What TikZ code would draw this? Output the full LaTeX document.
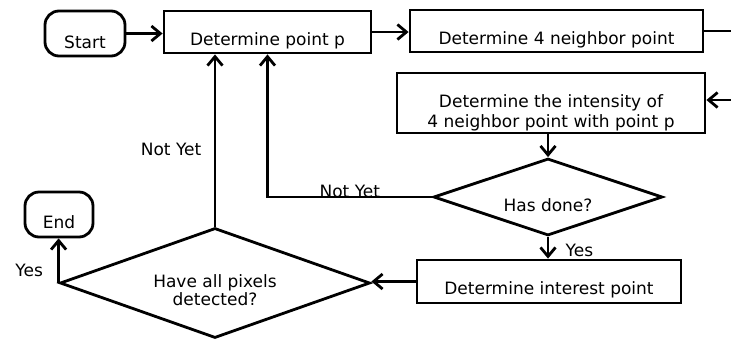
\documentclass[tikz,border=0pt]{standalone}
\usepackage{fontspec}
\setmainfont{DejaVu Sans}
\usetikzlibrary{arrows.meta,positioning,shapes.geometric}

\begin{document}
\begin{tikzpicture}[
  x=1pt, y=-1pt,
  every node/.style={font=\fontsize{17}{20}\selectfont},
  box/.style={draw, line width=2.8pt, inner sep=4pt, text height=30pt, text depth=4pt, align=center},
  term/.style={box, rounded corners=14pt},
  decision/.style={draw, diamond, line width=2.8pt, inner sep=0pt, align=center},
  arrow/.style={-{Straight Barb[length=9pt, width=15pt]}, line width=2.8pt}
]
  \useasboundingbox (0,0) rectangle (731,341);

  \node[term, minimum width=80pt, minimum height=45pt, text height=33pt] (start) at (85,33.5) {Start};
  \node[box, minimum width=207pt, minimum height=42pt] (detp) at (267.5,32) {Determine point p};
  \node[box, minimum width=293pt, minimum height=42pt] (nbr) at (556.5,31) {Determine 4 neighbor point};
  \node[box, minimum width=308pt, minimum height=60pt, text height=50pt, text depth=2pt] (inten) at (551,103) {Determine the intensity of\\4 neighbor point with point p};
  \node[decision, shape aspect=2.97, minimum width=229pt, minimum height=77pt, text height=30pt, text depth=2pt] (done) at (548,197) {Has done?};
  \node[box, minimum width=264pt, minimum height=43pt] (intp) at (549,281.5) {Determine interest point};
  \node[decision, shape aspect=2.82, minimum width=310pt, minimum height=110pt, text height=46pt, text depth=2pt, font=\fontsize{17}{15}\selectfont] (allpx) at (215,283) {Have all pixels\\detected?};
  \node[term, minimum width=68pt, minimum height=45pt, text height=32pt, text depth=5pt] (stop) at (59,214.5) {End};

  \coordinate (offr) at (760,0);

  \draw[arrow] (start.east) -- (start.east -| detp.west);
  \draw[arrow] (detp.east) -- (detp.east -| nbr.west);
  \draw[arrow] (nbr.east) -- (nbr.east -| offr) |- ([yshift=3pt]inten.east);
  \draw[arrow] (done.north |- inten.south) -- (done.north);
  \draw[arrow] (done.south) -- (done.south |- intp.north) node[pos=0.6, right=13pt] {Yes};
  \draw[arrow] (intp.west) -- (intp.west -| allpx.east);
  \draw[arrow] (allpx.north) -- (allpx.north |- detp.south) node[pos=0.45, left=9pt] {Not Yet};
  \draw[arrow] (done.west) -| (detp.south) node[pos=0.25, anchor=base] {Not Yet};
  \draw[arrow] (allpx.west) -- (allpx.west |- stop.south) node[pos=0.28, left=11pt] {Yes};
\end{tikzpicture}
\end{document}
